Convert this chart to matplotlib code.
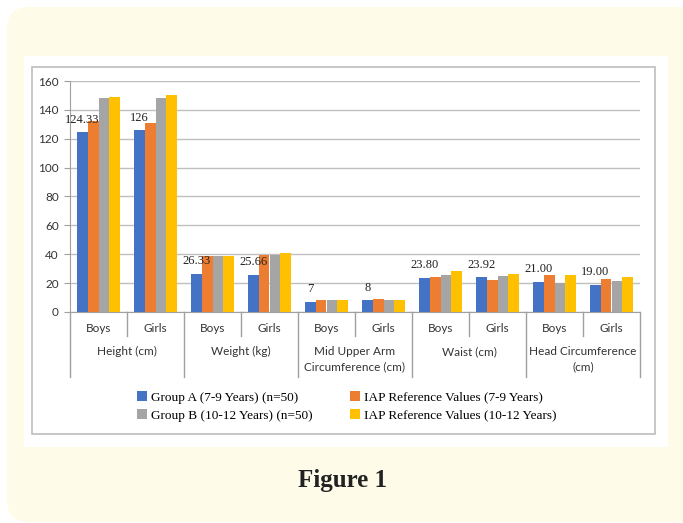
import matplotlib
matplotlib.use("Agg")
import matplotlib.pyplot as plt
from matplotlib.patches import FancyBboxPatch, Rectangle
from matplotlib.lines import Line2D
import numpy as np

# ---- data ----
groups = ["Height (cm)", "Weight (kg)", "Mid Upper Arm\nCircumference (cm)",
          "Waist (cm)", "Head Circumference\n(cm)"]
sexes = ["Boys", "Girls"]
series_names = ["Group A (7-9 Years) (n=50)", "IAP Reference Values (7-9 Years)",
                "Group B (10-12 Years) (n=50)", "IAP Reference Values (10-12 Years)"]
group_a = [124.33, 126, 26.33, 25.66, 7, 8, 23.80, 23.92, 21.00, 19.00]
iap_7_9 = [132, 131, 38.7, 39.7, 8, 9.2, 24.4, 22.1, 25.4, 23]
group_b = [148, 148, 38.7, 39.7, 8, 8.5, 25.4, 24.7, 19.8, 21.2]
iap_10_12 = [149, 150.5, 38.7, 41, 8, 8.5, 28.6, 26.5, 25.4, 24.4]
a_labels = ["124.33", "126", "26.33", "25.66", "7", "8", "23.80", "23.92", "21.00", "19.00"]
y_ticks = [0, 20, 40, 60, 80, 100, 120, 140, 160]

colors = ["#4472C4", "#ED7D31", "#A5A5A5", "#FFC000"]
W, H = 683, 523

fig = plt.figure(figsize=(W / 100, H / 100), dpi=100)
fig.patch.set_facecolor("white")

# background card, white panel and chart frame (pixel coordinates)
bg = fig.add_axes([0, 0, 1, 1], zorder=0)
bg.set_xlim(0, W)
bg.set_ylim(H, 0)
bg.axis("off")
bg.add_patch(FancyBboxPatch((7 + 22, 7 + 22), W + 30 - 29, 515 - 44,
                            boxstyle="round,pad=22", fc="#FFFBE9", ec="none"))
bg.add_patch(Rectangle((24, 56), 644, 391, fc="white", ec="none"))
bg.add_patch(Rectangle((32, 67), 623, 367, fc="white", ec="#BDBDBD", lw=1.2))
bg.text(342, 481, "Figure 1", ha="center", va="center", fontsize=18,
        fontweight="bold", family="Liberation Serif", color="#222222")

# chart axes
ax = fig.add_axes([70 / W, 1 - 312 / H, 570 / W, 231 / H], zorder=1)
ax.set_facecolor("none")
x = np.arange(len(group_a))
w = 0.19
all_series = [group_a, iap_7_9, group_b, iap_10_12]
bars = []
for i, (vals, c) in enumerate(zip(all_series, colors)):
    b = ax.bar(x + (i - 1.5) * w, vals, width=w, color=c, zorder=3,
               label=series_names[i])
    bars.append(b)

for xi, v, lab in zip(x, group_a, a_labels):
    ax.annotate(lab, (xi - 1.5 * w, v), xytext=(0, 9), textcoords="offset points",
                ha="center", va="center", fontsize=9, family="Liberation Serif",
                color="#222222", zorder=5)

ax.set_xlim(-0.5, len(group_a) - 0.5)
ax.set_ylim(0, 160)
ax.set_yticks(y_ticks)
ax.set_yticklabels([str(t) for t in y_ticks], family="Lato", fontsize=8.5, color="#333333")
ax.yaxis.grid(True, color="#C0C0C0", lw=1.0, zorder=0)
ax.tick_params(axis="y", length=4, color="#A0A0A0", pad=4)
ax.set_xticks([])
for s in ["top", "right"]:
    ax.spines[s].set_visible(False)
ax.spines["left"].set_color("#A0A0A0")
ax.spines["bottom"].set_color("#A0A0A0")

# multi-level category axis
tr = ax.get_xaxis_transform()
ah = 231.0
for xi in x:
    ax.text(xi, -(329 - 312) / ah, sexes[xi % 2], transform=tr, ha="center",
            va="center", fontsize=8.5, family="Lato", color="#333333")
for gi, g in enumerate(groups):
    ax.text(2 * gi + 0.5, -(346 - 312) / ah, g, transform=tr, ha="center", va="top",
            fontsize=8.5, family="Lato", color="#333333", linespacing=1.45)
for k in range(len(group_a) + 1):
    xs = k - 0.5
    depth = (377 - 312) / ah if k % 2 == 0 else (336 - 312) / ah
    ax.add_line(Line2D([xs, xs], [0, -depth], transform=tr, color="#A0A0A0",
                       lw=1.0, clip_on=False))

handles = [bars[0], bars[1], bars[2], bars[3]]
order = [0, 2, 1, 3]
leg = fig.legend([handles[i] for i in order], [series_names[i] for i in order],
                 ncol=2, loc="upper left", bbox_to_anchor=(132 / W, 1 - 386 / H),
                 frameon=False, prop={"family": "Liberation Serif", "size": 9.5},
                 handlelength=0.7, handleheight=0.7, handletextpad=0.35,
                 columnspacing=2.85, labelspacing=0.45, borderaxespad=0)

fig.savefig("out.png", dpi=100)
